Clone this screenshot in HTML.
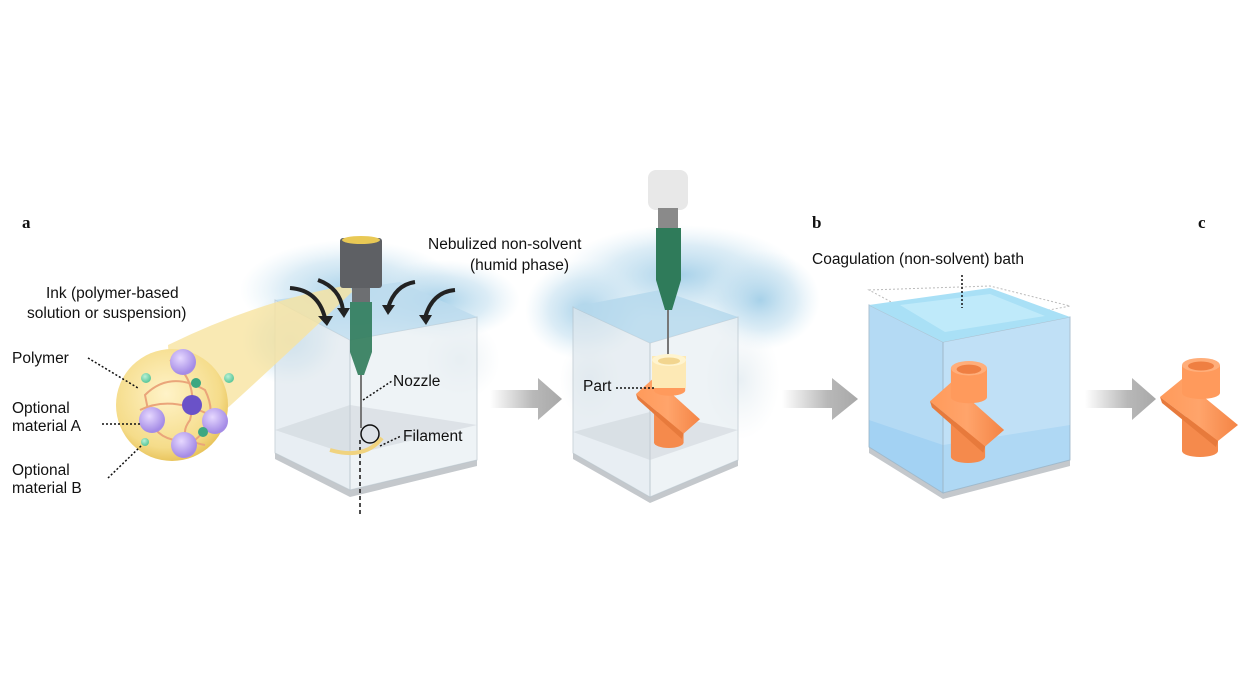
<!DOCTYPE html>
<html><head><style>
body{margin:0;background:#fff;width:1244px;height:700px;overflow:hidden}
svg{display:block}
text{font-family:"Liberation Sans",sans-serif;fill:#111}
</style></head><body>
<svg width="1244" height="700" viewBox="0 0 1244 700">
<defs>
<radialGradient id="cl" cx="50%" cy="50%" r="50%"><stop offset="0" stop-color="#a3cfe8" stop-opacity=".95"/><stop offset=".6" stop-color="#c4e0f0" stop-opacity=".6"/><stop offset="1" stop-color="#d8ebf5" stop-opacity="0"/></radialGradient>
<radialGradient id="cw" cx="50%" cy="50%" r="50%"><stop offset="0" stop-color="#e6eef3" stop-opacity=".9"/><stop offset="1" stop-color="#eef3f6" stop-opacity="0"/></radialGradient>
<radialGradient id="yc" cx="45%" cy="40%" r="60%"><stop offset="0" stop-color="#fff3c8"/><stop offset=".8" stop-color="#f5dc8a"/><stop offset="1" stop-color="#e9c55e"/></radialGradient>
<linearGradient id="ar" x1="0" x2="1"><stop offset="0" stop-color="#fff"/><stop offset=".6" stop-color="#b8b8b8"/><stop offset="1" stop-color="#a8a8a8"/></linearGradient>
<radialGradient id="pu" cx="40%" cy="35%" r="60%"><stop offset="0" stop-color="#e6d8ff"/><stop offset="1" stop-color="#a58ce6"/></radialGradient>
<radialGradient id="gr" cx="40%" cy="35%" r="60%"><stop offset="0" stop-color="#b9f1d6"/><stop offset="1" stop-color="#5fc89c"/></radialGradient>
<linearGradient id="or" x1="0" x2="1"><stop offset="0" stop-color="#ff9a5a"/><stop offset=".5" stop-color="#ffa46b"/><stop offset="1" stop-color="#f48445"/></linearGradient>
<g id="part">
 <rect x="22" y="60" width="36" height="34" fill="#f58a4c"/>
 <ellipse cx="40" cy="94" rx="18" ry="6" fill="#f58a4c"/>
 <polygon points="0,40 22,22 78,68 58,84" fill="url(#or)"/>
 <polygon points="0,40 58,84 56,90 2,46" fill="#e77a3c"/>
 <rect x="22" y="8" width="38" height="28" fill="#ff9a5c"/>
 <ellipse cx="41" cy="36" rx="19" ry="6" fill="#ff9a5c"/>
 <ellipse cx="41" cy="8" rx="19" ry="7" fill="#ffae7a"/>
 <ellipse cx="41" cy="9" rx="13" ry="4.5" fill="#ef7f42"/>
</g>
</defs>

<text x="22" y="228" font-weight="bold" font-size="17" style="font-family:'Liberation Serif',serif">a</text>
<text x="812" y="228" font-weight="bold" font-size="17" style="font-family:'Liberation Serif',serif">b</text>
<text x="1198" y="228" font-weight="bold" font-size="17" style="font-family:'Liberation Serif',serif">c</text>

<!-- clouds -->
<ellipse cx="350" cy="290" rx="110" ry="50" fill="url(#cl)"/>
<ellipse cx="440" cy="300" rx="80" ry="40" fill="url(#cl)"/>
<ellipse cx="290" cy="340" rx="50" ry="45" fill="url(#cl)"/>
<ellipse cx="460" cy="360" rx="40" ry="40" fill="url(#cw)"/>
<ellipse cx="680" cy="275" rx="120" ry="50" fill="url(#cl)"/>
<ellipse cx="760" cy="300" rx="60" ry="50" fill="url(#cl)"/>
<ellipse cx="585" cy="310" rx="60" ry="50" fill="url(#cl)"/>
<ellipse cx="740" cy="380" rx="40" ry="60" fill="url(#cw)"/>
<ellipse cx="590" cy="380" rx="30" ry="40" fill="url(#cw)"/>

<!-- Box 1 -->
<polygon points="275,453 350,490 477,460 477,466 350,497 275,459" fill="#c4c8cc"/>
<polygon points="275,300 350,340 350,490 275,453" fill="#dfe8ee" opacity=".7" stroke="#b8c4cc"/>
<polygon points="350,340 477,317 477,460 350,490" fill="#e8eff3" opacity=".7" stroke="#b8c4cc"/>
<polygon points="275,300 400,282 477,317 350,340" fill="#bcdbed" opacity=".8"/>
<polygon points="275,430 350,405 477,425 350,455" fill="#c7ced4" opacity=".45"/>
<path d="M168,345 Q260,300 350,285 L352,292 Q260,380 175,455 Z" fill="#f7e3a0" opacity=".8"/>
<rect x="340" y="238" width="42" height="50" rx="3" fill="#5e6064"/>
<ellipse cx="361" cy="240" rx="19" ry="4" fill="#e9c955"/>
<rect x="352" y="288" width="18" height="14" fill="#6d6f72"/>
<path d="M350,302 H372 V352 L364,375 H358 L350,352 Z" fill="#2f7b5a" opacity=".9"/>
<line x1="361" y1="375" x2="361" y2="428" stroke="#777" stroke-width="2"/>
<line x1="360" y1="440" x2="360" y2="515" stroke="#111" stroke-width="1.5" stroke-dasharray="4,3"/>
<circle cx="370" cy="434" r="9" fill="none" stroke="#111" stroke-width="1.5"/>
<path d="M330,450 Q365,460 382,438" fill="none" stroke="#f0d37f" stroke-width="4"/>
<g fill="none" stroke="#222" stroke-width="4">
<path d="M290,288 Q318,290 325,318"/><path d="M318,280 Q340,288 343,310"/>
<path d="M415,282 Q395,285 388,308"/><path d="M455,290 Q432,292 425,318"/>
</g>
<g fill="#222"><polygon points="318,316 333,316 327,326"/><polygon points="337,308 350,308 344,318"/><polygon points="382,305 395,305 388,315"/><polygon points="419,315 432,315 426,325"/></g>
<text x="428" y="249" font-size="15.5">Nebulized non-solvent</text>
<text x="470" y="270" font-size="15.5">(humid phase)</text>
<text x="393" y="386" font-size="15.5">Nozzle</text>
<line x1="363" y1="400" x2="392" y2="381" stroke="#111" stroke-width="1.5" stroke-dasharray="2,2"/>
<text x="403" y="441" font-size="15.5">Filament</text>
<line x1="380" y1="446" x2="401" y2="436" stroke="#111" stroke-width="1.5" stroke-dasharray="2,2"/>

<!-- ink circle -->
<text x="46" y="298" font-size="15.5">Ink (polymer-based</text>
<text x="27" y="318" font-size="15.5">solution or suspension)</text>
<circle cx="172" cy="405" r="56" fill="url(#yc)"/>
<g fill="none" stroke="#eaa57a" stroke-width="2">
<path d="M145,395 Q170,370 205,390 Q220,420 195,440 Q160,445 150,420 Z"/>
<path d="M170,360 Q200,380 190,420 Q175,440 205,445"/>
<path d="M140,410 Q170,395 210,415"/>
</g>
<circle cx="183" cy="362" r="13" fill="url(#pu)"/>
<circle cx="152" cy="420" r="13" fill="url(#pu)"/>
<circle cx="215" cy="421" r="13" fill="url(#pu)"/>
<circle cx="184" cy="445" r="13" fill="url(#pu)"/>
<circle cx="192" cy="405" r="10" fill="#6a52c8"/>
<circle cx="146" cy="378" r="5" fill="url(#gr)"/><circle cx="229" cy="378" r="5" fill="url(#gr)"/>
<circle cx="196" cy="383" r="5" fill="#3da781"/><circle cx="203" cy="432" r="5" fill="#3da781"/><circle cx="145" cy="442" r="4" fill="url(#gr)"/>
<text x="12" y="363" font-size="15.5">Polymer</text>
<line x1="88" y1="358" x2="138" y2="388" stroke="#111" stroke-width="1.5" stroke-dasharray="2,2"/>
<text x="12" y="413" font-size="15.5">Optional</text>
<text x="12" y="431" font-size="15.5">material A</text>
<line x1="102" y1="424" x2="140" y2="424" stroke="#111" stroke-width="1.5" stroke-dasharray="2,2"/>
<text x="12" y="475" font-size="15.5">Optional</text>
<text x="12" y="493" font-size="15.5">material B</text>
<line x1="108" y1="478" x2="142" y2="445" stroke="#111" stroke-width="1.5" stroke-dasharray="2,2"/>

<!-- arrows -->
<polygon points="490,390 538,390 538,378 562,399 538,420 538,408 490,408" fill="url(#ar)"/>
<polygon points="782,390 832,390 832,378 858,399 832,420 832,408 782,408" fill="url(#ar)"/>
<polygon points="1085,390 1132,390 1132,378 1156,399 1132,420 1132,408 1085,408" fill="url(#ar)"/>

<!-- Box 2 -->
<polygon points="573,453 650,497 738,460 738,466 650,503 573,459" fill="#c4c8cc"/>
<polygon points="573,307 650,343 650,497 573,453" fill="#dfe8ee" opacity=".7" stroke="#b8c4cc"/>
<polygon points="650,343 738,317 738,460 650,497" fill="#e8eff3" opacity=".7" stroke="#b8c4cc"/>
<polygon points="573,307 660,290 738,317 650,343" fill="#b5d8ec" opacity=".85"/>
<polygon points="573,432 650,412 738,430 650,460" fill="#c7ced4" opacity=".45"/>
<rect x="648" y="170" width="40" height="40" rx="8" fill="#e8e8e8"/>
<rect x="658" y="208" width="20" height="20" fill="#8a8a8a"/>
<path d="M656,228 H681 V280 L672,310 H665 L656,280 Z" fill="#2f7b5a"/>
<line x1="668" y1="310" x2="668" y2="360" stroke="#777" stroke-width="2"/>
<g transform="translate(636,358) scale(0.82,0.9)"><use href="#part"/></g>
<rect x="652" y="356" width="34" height="32" fill="#fde9b5"/>
<ellipse cx="669" cy="360" rx="17" ry="6" fill="#fff4cf"/>
<ellipse cx="669" cy="361" rx="11" ry="3.5" fill="#f2d58f"/>
<text x="583" y="391" font-size="15.5">Part</text>
<line x1="616" y1="388" x2="654" y2="388" stroke="#111" stroke-width="1.5" stroke-dasharray="2,2"/>

<!-- Box 3 -->
<polygon points="869,447 943,493 1070,460 1070,466 943,499 869,453" fill="#c4c8cc"/>
<polygon points="869,420 943,445 1070,425 1070,460 943,493 869,447" fill="#6cbaf0" opacity=".8"/>
<polygon points="869,305 943,342 943,493 869,447" fill="#a8d4f3" opacity=".85" stroke="#9fb7c8"/>
<polygon points="943,342 1070,317 1070,460 943,493" fill="#b6dbf5" opacity=".85" stroke="#9fb7c8"/>
<polygon points="869,290 990,286 1070,306 943,330" fill="none" stroke="#bbb" stroke-dasharray="2,2"/>
<polygon points="869,305 990,288 1070,317 943,342" fill="#a9e0f6"/>
<polygon points="900,305 990,294 1045,316 945,332" fill="#bfeafa"/>
<g transform="translate(930,360) scale(0.95,1.03)"><use href="#part"/></g>
<text x="812" y="264" font-size="15.5">Coagulation (non-solvent) bath</text>
<line x1="962" y1="275" x2="962" y2="308" stroke="#111" stroke-width="1.5" stroke-dasharray="2,2"/>

<g transform="translate(1160,357)"><use href="#part"/></g>
</svg>
</body></html>
